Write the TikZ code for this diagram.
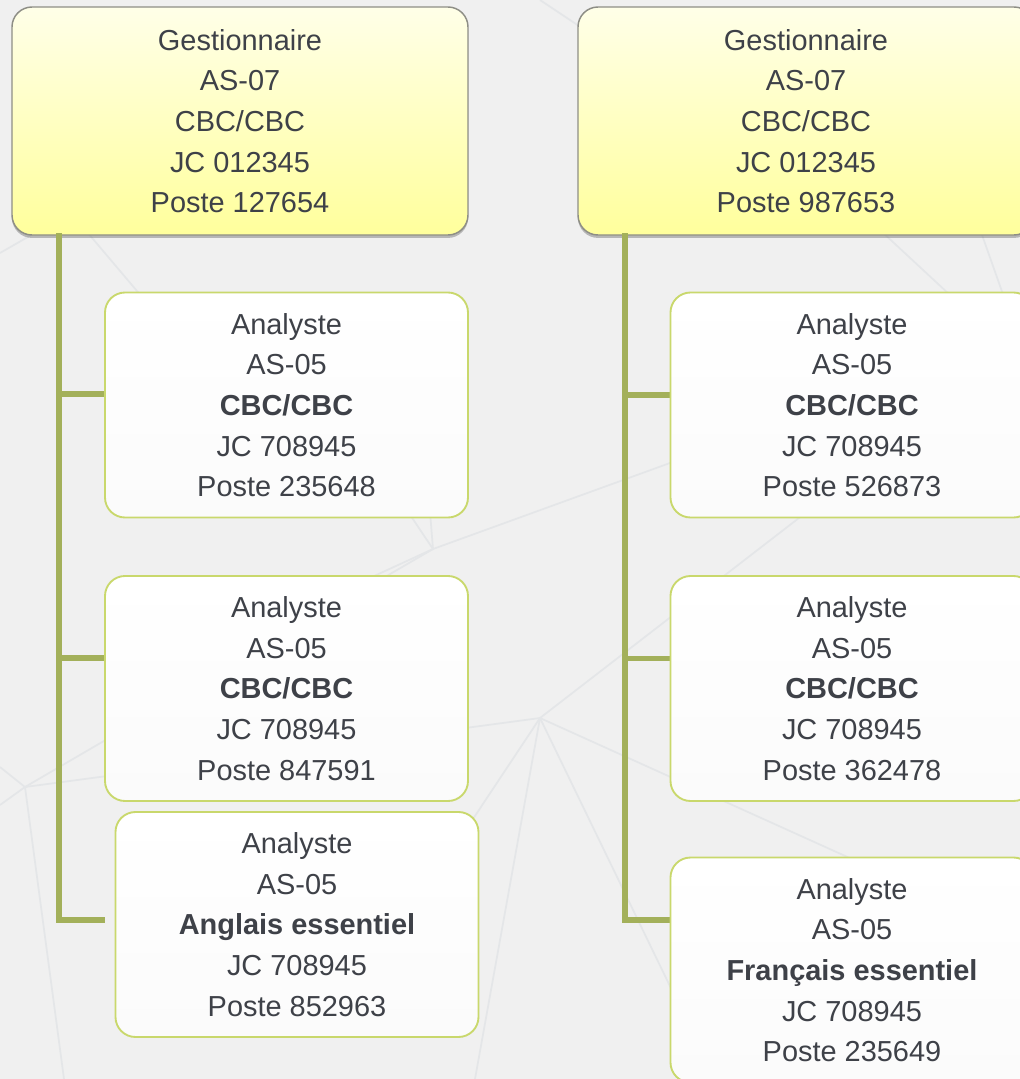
\documentclass[tikz,border=0pt]{standalone}
\usepackage{fontspec}
\setmainfont{Liberation Sans}
\usetikzlibrary{shadows}
\definecolor{bgc}{HTML}{F0F0F0}
\definecolor{meshc}{HTML}{E4E6E8}
\definecolor{mgrtop}{HTML}{FFFFE8}
\definecolor{mgrbot}{HTML}{FFFF9C}
\definecolor{mgrborder}{HTML}{8E8E86}
\definecolor{anaborder}{HTML}{C9D86C}
\definecolor{anabot}{HTML}{FBFBFB}
\definecolor{conncol}{HTML}{A3B05A}
\definecolor{txt}{HTML}{3E4148}
\tikzset{
  x=0.75pt, y=-0.75pt,
  boxtext/.style={align=center, text=txt, font=\fontsize{21.7pt}{30.5pt}\selectfont},
  mgr/.style={boxtext, draw=mgrborder, line width=1.1pt, rounded corners=15pt,
    top color=mgrtop, bottom color=mgrbot, minimum width=342pt, minimum height=171pt,
    drop shadow={shadow xshift=0pt, shadow yshift=-2.2pt, opacity=0.35, fill=black!70}},
  ana/.style={boxtext, draw=anaborder, line width=1.4pt, rounded corners=15pt,
    top color=white, bottom color=anabot, minimum width=272.25pt, minimum height=168.75pt},
  conn/.style={draw=conncol, line width=4.3pt, line cap=rect, line join=miter},
  mesh/.style={draw=meshc, line width=1.3pt}
}
\begin{document}
\begin{tikzpicture}
\useasboundingbox (0,0) rectangle (1020,1079);
\clip (0,0) rectangle (1020,1079);
\fill[bgc] (0,0) rectangle (1020,1079);
% background mesh
\coordinate (A) at (540,718);
\coordinate (B) at (25,787);
\coordinate (C) at (433,549);
\draw[mesh] (B) -- (A);
\draw[mesh] (B) -- (C);
\draw[mesh] (B) -- (0,767);
\draw[mesh] (B) -- (0,805);
\draw[mesh] (B) -- (64,1079);
\draw[mesh] (C) -- (1020,336);
\draw[mesh] (C) -- (300,610);
\draw[mesh] (C) -- (380,470);
\draw[mesh] (C) -- (425,450);
\draw[mesh] (A) -- (830,494);
\draw[mesh] (A) -- (400,929);
\draw[mesh] (A) -- (475,1079);
\draw[mesh] (A) -- (715,1079);
\draw[mesh] (A) -- (1020,935);
\draw[mesh] (540,0) -- (600,40);
\draw[mesh] (0,253) -- (40,230);
\draw[mesh] (60,200) -- (170,330);
\draw[mesh] (880,230) -- (950,295);
\draw[mesh] (975,215) -- (1005,300);
% boxes
\node[mgr] (m1) at (240,121) {Gestionnaire\\AS-07\\CBC/CBC\\JC 012345\\Poste 127654};
\node[mgr] (m2) at (806,121) {Gestionnaire\\AS-07\\CBC/CBC\\JC 012345\\Poste 987653};
% connectors (drawn under analyst boxes)
\draw[conn] ([xshift=36pt]m1.south west) coordinate (L) -- (L |- 0,920) -- (102,920);
\draw[conn] (L |- 0,394) -- (105,394);
\draw[conn] (L |- 0,658) -- (105,658);
\draw[conn] ([xshift=36pt]m2.south west) coordinate (R) -- (R |- 0,920) -- (670,920);
\draw[conn] (R |- 0,395) -- (670,395);
\draw[conn] (R |- 0,658.5) -- (670,658.5);
\node[ana] (a1) at (286.5,405) {Analyste\\AS-05\\\textbf{CBC/CBC}\\JC 708945\\Poste 235648};
\node[ana] (a2) at (286.5,688.5) {Analyste\\AS-05\\\textbf{CBC/CBC}\\JC 708945\\Poste 847591};
\node[ana] (a3) at (297,924.5) {Analyste\\AS-05\\\textbf{Anglais essentiel}\\JC 708945\\Poste 852963};
\node[ana] (b1) at (852,405) {Analyste\\AS-05\\\textbf{CBC/CBC}\\JC 708945\\Poste 526873};
\node[ana] (b2) at (852,688.5) {Analyste\\AS-05\\\textbf{CBC/CBC}\\JC 708945\\Poste 362478};
\node[ana] (b3) at (852,970) {Analyste\\AS-05\\\textbf{Français essentiel}\\JC 708945\\Poste 235649};
\end{tikzpicture}
\end{document}
